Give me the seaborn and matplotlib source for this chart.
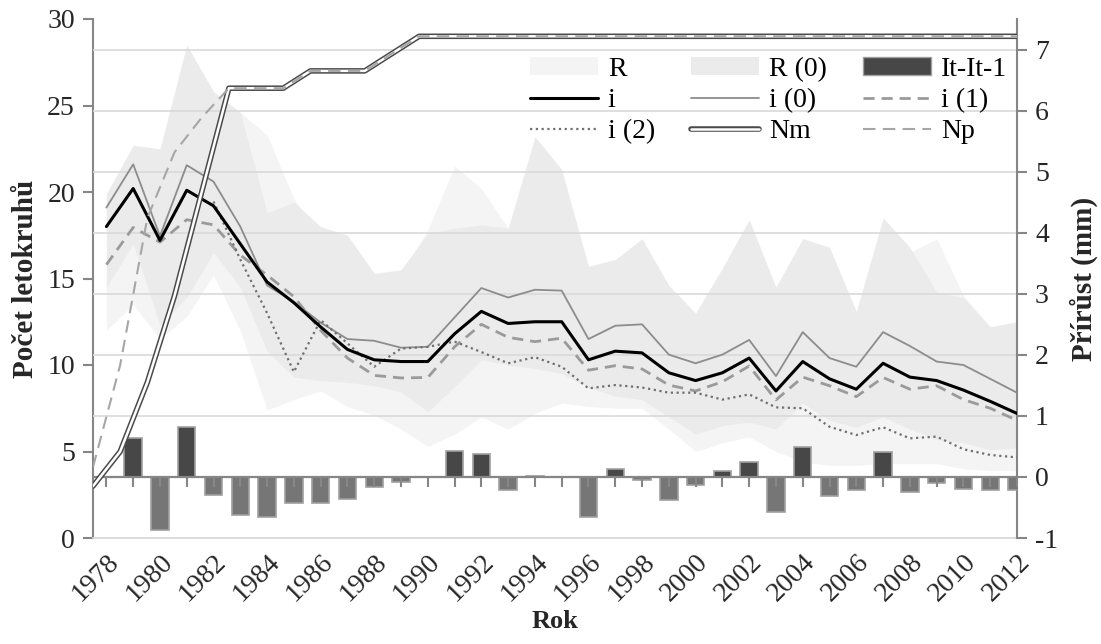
import numpy as np
import pandas as pd
import matplotlib
matplotlib.use("Agg")
import matplotlib.pyplot as plt
import seaborn as sns
from matplotlib.lines import Line2D
from matplotlib.patches import Patch
from matplotlib.legend_handler import HandlerTuple

years = list(range(1978, 2013))

# ring index series (left axis, Počet letokruhů scale)
i_vals = [18.0, 20.2, 17.2, 20.1, 19.2, 17.0, 14.8, 13.6, 12.2, 10.9,
          10.3, 10.2, 10.2, 11.8, 13.1, 12.4, 12.5, 12.5, 10.3, 10.8,
          10.7, 9.55, 9.1, 9.55, 10.4, 8.5, 10.2, 9.2, 8.6, 10.1,
          9.3, 9.1, 8.55, 7.9, 7.2]
i0_vals = [19.1, 21.6, 17.45, 21.55, 20.6, 18.0, 14.6, 13.65, 12.45, 11.5,
           11.4, 11.0, 11.05, 12.75, 14.45, 13.9, 14.35, 14.3, 11.5, 12.27,
           12.35, 10.6, 10.1, 10.6, 11.45, 9.36, 11.9, 10.4, 9.9, 11.9,
           11.1, 10.2, 10.0, 9.2, 8.4]
i1_vals = [15.8, 17.95, 17.1, 18.4, 18.1, 16.35, 15.2, 13.95, 12.0, 10.4,
           9.4, 9.25, 9.28, 11.05, 12.35, 11.6, 11.35, 11.55, 9.7, 9.96,
           9.77, 8.84, 8.5, 9.03, 9.94, 7.98, 9.3, 8.8, 8.17, 9.28,
           8.6, 8.8, 8.0, 7.5, 6.8]
i2_vals = [np.nan, np.nan, np.nan, np.nan, 19.45, 16.1, 13.0, 9.6, 12.6, 11.25,
           9.9, 10.95, 11.05, 11.35, 10.75, 10.1, 10.45, 9.9, 8.65, 8.84,
           8.7, 8.4, 8.4, 8.0, 8.3, 7.55, 7.5, 6.43, 5.95, 6.4,
           5.76, 5.86, 5.13, 4.8, 4.66]

# sample depth
nm_vals = [3, 5, 9, 14, 20, 26, 26, 26, 27, 27, 27, 28] + [29] * 23
np_vals = [4.1, 10.0, 18.5, 22.3, 24.3, 26, 26, 26, 27, 27, 27, 28] + [29] * 23

# ranges (areas)
r_hi = [19.5, 21.0, 20.0, 27.0, 25.5, 24.6, 23.3, 19.6, 17.5, 17.0,
        15.0, 15.3, 17.8, 21.5, 20.2, 17.9, 17.5, 17.0, 15.0, 15.5,
        16.5, 14.0, 12.5, 15.0, 17.5, 14.0, 16.5, 16.0, 12.8, 17.5,
        16.5, 17.3, 14.0, 12.2, 12.5]
r_lo = [12.0, 13.5, 11.5, 12.8, 15.2, 12.0, 7.4, 8.0, 8.5, 7.6,
        7.1, 6.3, 5.3, 6.0, 7.0, 6.3, 7.2, 7.8, 7.6, 7.5,
        7.5, 6.3, 5.0, 5.5, 5.85, 5.0, 4.4, 4.2, 4.2, 4.3,
        4.3, 4.3, 4.0, 3.9, 3.9]
r0_hi = [19.9, 22.7, 22.5, 28.5, 25.8, 24.6, 18.8, 19.4, 18.0, 17.5,
         15.3, 15.5, 17.6, 17.9, 18.1, 17.9, 23.2, 21.3, 15.7, 16.1,
         17.3, 14.6, 13.0, 15.6, 18.4, 14.5, 17.3, 16.8, 13.1, 18.5,
         16.8, 14.2, 13.9, 12.2, 12.5]
r0_lo = [14.5, 17.0, 12.3, 13.9, 16.5, 14.5, 10.8, 9.3, 9.1, 9.0,
         8.8, 8.45, 7.3, 8.75, 10.3, 10.0, 9.8, 9.5, 8.7, 8.2,
         8.0, 7.0, 6.0, 6.5, 6.7, 6.3, 7.8, 6.8, 6.4, 7.0,
         6.3, 5.7, 5.5, 5.1, 5.2]

# increment difference (right axis, mm)
diff_vals = [np.nan, 0.63, -0.87, 0.82, -0.30, -0.63, -0.65, -0.43, -0.43, -0.36,
             -0.17, -0.08, 0.0, 0.42, 0.37, -0.22, 0.02, 0.0, -0.65, 0.13,
             -0.05, -0.37, -0.14, 0.09, 0.25, -0.58, 0.49, -0.32, -0.21, 0.41,
             -0.24, -0.10, -0.19, -0.21, -0.22]

xtick_years = years[::2]

sns.set_theme(style="white")
plt.rcParams['font.family'] = ['Liberation Serif', 'DejaVu Serif']
plt.rcParams['text.color'] = 'black'
plt.rcParams['axes.unicode_minus'] = False

GRAY = '#868686'
GRID = '#d9d9d9'
FS = 20
FSL = 21

fig = plt.figure(figsize=(11.01, 6.44), dpi=100)
pos = [93 / 1101, 1 - 538 / 644, (1017 - 93) / 1101, (538 - 19) / 644]
ax = fig.add_axes(pos)
ax2 = ax.twinx()

# areas
ax.fill_between(years, r_lo, r_hi, color='#f4f4f4', lw=0, zorder=1)
ax.fill_between(years, r0_lo, r0_hi, color='#ebebeb', lw=0, zorder=2)

# bars on right axis
df_bar = pd.DataFrame({'year': years, 'diff': diff_vals})
df_bar['sign'] = np.where(df_bar['diff'] >= 0, 'pos', 'neg')
sns.barplot(data=df_bar, x='year', y='diff', hue='sign', native_scale=True,
            palette={'pos': '#474747', 'neg': '#767676'}, width=0.65,
            dodge=False, legend=False, edgecolor='#a0a0a0', linewidth=1.2,
            ax=ax2, zorder=3)
ax2.axhline(0, color=GRAY, lw=1.6, zorder=4)
ax2.plot(years, np.zeros(len(years)), ls='none', marker=3, ms=7, mew=1.5,
         color=GRAY, zorder=4)

ax2.set_ylim(-1, 7.5)
ax2.set_yticks(range(-1, 8))
ax2.yaxis.grid(True, color=GRID, lw=1.2)
ax2.set_axisbelow(True)
ax2.tick_params(axis='y', direction='out', length=7, width=1.5, color=GRAY,
                labelsize=FS, pad=6, right=True)
ax2.set_ylabel('Přírůst (mm)', fontsize=FSL, fontweight='bold', labelpad=8)
ax2.set_xlabel('')
for s in ['top', 'left', 'bottom']:
    ax2.spines[s].set_visible(False)
ax2.spines['right'].set_color(GRAY)
ax2.spines['right'].set_linewidth(1.5)

ax.set_ylim(0, 30)
ax.set_yticks(range(0, 31, 5))
ax.tick_params(axis='y', direction='out', length=7, width=1.5, color=GRAY,
               labelsize=FS, pad=6, left=True)
ax.set_ylabel('Počet letokruhů', fontsize=FSL, fontweight='bold', labelpad=6)
ax.set_xlim(1977.5, 2012)
ax.set_xticks(xtick_years)
ax.set_xticklabels([str(y) for y in xtick_years], rotation=45, ha='right',
                   rotation_mode='anchor', fontsize=FS)
ax.tick_params(axis='x', length=0, pad=8)
ax.set_xlabel('Rok', fontsize=19, fontweight='bold', labelpad=3)
for s in ['top', 'right']:
    ax.spines[s].set_visible(False)
ax.spines['left'].set_color(GRAY)
ax.spines['left'].set_linewidth(1.5)
ax.spines['bottom'].set_color(GRID)
ax.spines['bottom'].set_linewidth(1.2)

# index lines overlay (same x as bars)
axL = fig.add_axes(pos, sharex=ax)
axL.set_ylim(0, 30)
axL.patch.set_alpha(0)
axL.axis('off')
sns.lineplot(x=years, y=i0_vals, ax=axL, color='#8c8c8c', lw=1.3)
sns.lineplot(x=years, y=i1_vals, ax=axL, color='#9a9a9a', lw=2.0,
             linestyle=(0, (4, 2.5)))
sns.lineplot(x=years, y=i2_vals, ax=axL, color='#707070', lw=1.6,
             linestyle=(0, (1, 1.6)))
sns.lineplot(x=years, y=i_vals, ax=axL, color='black', lw=2.2)
axL.set_xlim(1977.5, 2012)
axL.set_ylim(0, 30)

# sample depth overlay (edge-to-edge x axis)
axN = fig.add_axes(pos)
axN.patch.set_alpha(0)
sns.lineplot(x=years, y=nm_vals, ax=axN, color='#4a4a4a', lw=4.0)
sns.lineplot(x=years, y=nm_vals, ax=axN, color='white', lw=1.8)
sns.lineplot(x=years, y=np_vals, ax=axN, color='#a6a6a6', lw=1.5,
             linestyle=(0, (6, 3.5)))
axN.set_xlim(1978, 2012)
axN.set_ylim(0, 30)
axN.axis('off')

# legend
h_r = Patch(facecolor='#f4f4f4', edgecolor='none')
h_r0 = Patch(facecolor='#ebebeb', edgecolor='none')
h_bar = Patch(facecolor='#474747', edgecolor='#a0a0a0')
h_i = Line2D([], [], color='black', lw=2.2)
h_i0 = Line2D([], [], color='#8c8c8c', lw=1.3)
h_i1 = Line2D([], [], color='#9a9a9a', lw=2.0, linestyle=(0, (4, 2.5)))
h_i2 = Line2D([], [], color='#707070', lw=1.6, linestyle=(0, (1, 1.6)))
h_nm = (Line2D([], [], color='#4a4a4a', lw=4.0), Line2D([], [], color='white', lw=1.8))
h_np = Line2D([], [], color='#a6a6a6', lw=1.5, linestyle=(0, (6, 3.5)))

handles = [h_r, h_i, h_i2, h_r0, h_i0, h_nm, h_bar, h_i1, h_np]
labels = ['R', 'i', 'i (2)', 'R (0)', 'i (0)', 'Nm', 'It-It-1', 'i (1)', 'Np']
axN.legend(handles, labels, ncol=3, loc='upper left', bbox_to_anchor=(0.473, 0.927),
           frameon=False, fontsize=FS, handlelength=2.45, handleheight=0.65,
           handletextpad=0.35, columnspacing=1.3, labelspacing=0.22,
           borderaxespad=0, borderpad=0, handler_map={tuple: HandlerTuple(ndivide=1)})

fig.savefig('out.png', dpi=100)
